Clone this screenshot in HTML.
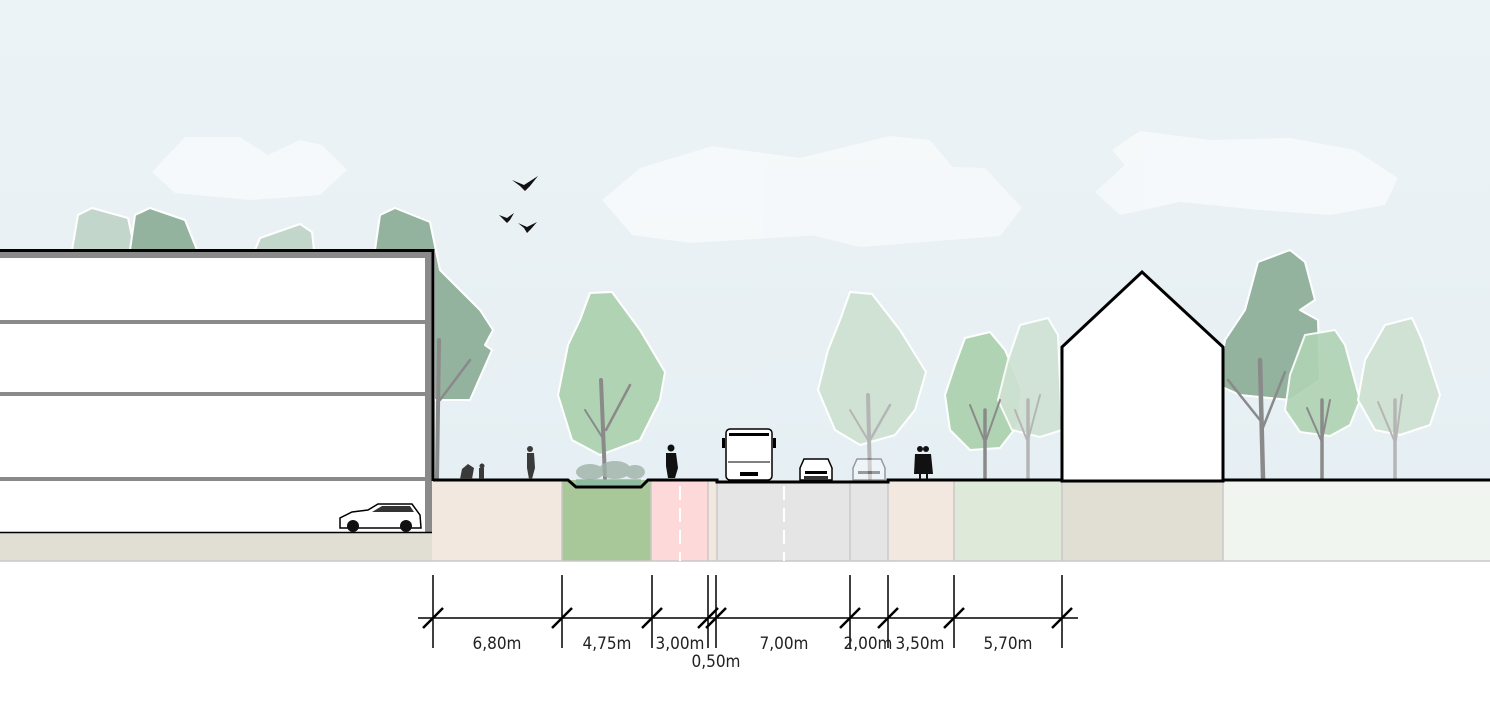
<!DOCTYPE html>
<html><head><meta charset="utf-8"><style>
html,body{margin:0;padding:0;background:#fff;}
svg{display:block;}
text{font-family:"DejaVu Sans Condensed","Liberation Sans Narrow","Liberation Sans",sans-serif;font-size:17px;fill:#222;}
</style></head><body>
<svg width="1490" height="723" viewBox="0 0 1490 723" xmlns="http://www.w3.org/2000/svg">
<defs>
<linearGradient id="sky" x1="0" y1="0" x2="0" y2="1">
<stop offset="0" stop-color="#ecf3f6"/><stop offset="1" stop-color="#e6eff3"/>
</linearGradient>
</defs>
<rect x="0" y="0" width="1490" height="480" fill="url(#sky)"/>
<g fill="#ffffff" opacity="0.55">
<polygon points="185,137 240,137 268,155 300,140 322,145 347,170 320,195 250,200 175,193 152,172"/>
<polygon points="640,168 712,146 800,158 890,136 930,140 955,170 935,200 880,222 820,235 690,243 632,235 602,200"/>
<polygon points="812,172 860,168 905,178 950,167 985,168 1022,208 1000,236 860,247 803,233 780,205"/>
<polygon points="1140,131 1210,140 1290,138 1355,150 1398,178 1385,205 1330,215 1260,210 1180,202 1120,215 1095,192 1125,165 1112,150"/>
</g>
<g stroke="#fff" stroke-width="2" stroke-linejoin="round">
<path d="M72,250 L78,215 L92,208 L128,218 L135,250 Z" fill="#c3d6cb"/>
<path d="M130,250 L135,215 L150,208 L185,220 L197,250 Z" fill="#93b39e"/>
<path d="M255,250 L260,238 L300,224 L312,232 L314,250 Z" fill="#c3d6cb"/>
<path d="M375,250 L380,215 L395,208 L430,222 L440,270 L480,310 L493,330 L485,345 L492,350 L470,400 L434,400 L434,250 Z" fill="#93b39e"/>
</g>
<g stroke="#8a8a8a" stroke-linecap="round" fill="none">
<line x1="437" y1="478" x2="439" y2="340" stroke-width="4"/>
<line x1="440" y1="400" x2="470" y2="360" stroke-width="2.5"/>
</g>
<g stroke="#fff" stroke-width="2" stroke-linejoin="round">
<path d="M590,293 L612,292 L640,330 L665,372 L660,400 L640,440 L600,455 L572,440 L558,395 L568,345 L580,320 Z" fill="#b0d3b4"/>
<path d="M850,292 L872,294 L900,330 L926,372 L915,410 L895,435 L860,445 L835,430 L818,390 L828,350 L840,320 Z" fill="#cfe2d3"/>
<path d="M965,338 L990,332 L1005,350 L1022,390 L1018,425 L1000,448 L970,450 L950,430 L945,395 L955,365 Z" fill="#b0d3b4"/>
<path d="M1020,325 L1048,318 L1058,335 L1062,430 L1040,437 L1012,430 L998,400 L1008,360 Z" fill="#cfe2d3" opacity="0.9"/>
<path d="M1258,262 L1290,250 L1305,262 L1315,300 L1300,310 L1318,320 L1320,380 L1290,400 L1240,395 L1218,385 L1225,340 L1245,310 Z" fill="#93b39e"/>
<path d="M1305,335 L1335,330 L1345,345 L1360,400 L1350,425 L1330,436 L1300,432 L1285,410 L1290,375 Z" fill="#b0d3b4" opacity="0.92"/>
<path d="M1385,325 L1412,318 L1422,340 L1440,395 L1430,425 L1400,435 L1375,430 L1358,400 L1365,360 Z" fill="#cfe2d3"/>
</g>
<g stroke-linecap="round" fill="none">
<g stroke="#8a8a8a"><line x1="605" y1="478" x2="601" y2="380" stroke-width="4"/><line x1="606" y1="430" x2="630" y2="385" stroke-width="2.5"/><line x1="604" y1="440" x2="585" y2="410" stroke-width="2"/></g>
<g stroke="#b5b5b5"><line x1="870" y1="478" x2="868" y2="395" stroke-width="4"/><line x1="870" y1="440" x2="890" y2="405" stroke-width="2.5"/><line x1="868" y1="440" x2="850" y2="410" stroke-width="2"/></g>
<g stroke="#8a8a8a"><line x1="985" y1="478" x2="985" y2="410" stroke-width="3.5"/><line x1="986" y1="440" x2="1000" y2="400" stroke-width="2"/><line x1="984" y1="440" x2="970" y2="405" stroke-width="2"/></g>
<g stroke="#b5b5b5"><line x1="1028" y1="478" x2="1028" y2="400" stroke-width="3.5"/><line x1="1028" y1="440" x2="1040" y2="395" stroke-width="2"/><line x1="1027" y1="440" x2="1015" y2="410" stroke-width="2"/></g>
<g stroke="#8a8a8a"><line x1="1263" y1="478" x2="1260" y2="360" stroke-width="4.5"/><line x1="1262" y1="430" x2="1285" y2="372" stroke-width="2.5"/><line x1="1260" y1="420" x2="1228" y2="380" stroke-width="2.5"/></g>
<g stroke="#8a8a8a"><line x1="1322" y1="478" x2="1322" y2="400" stroke-width="3.5"/><line x1="1322" y1="440" x2="1330" y2="400" stroke-width="2"/><line x1="1321" y1="440" x2="1307" y2="408" stroke-width="2"/></g>
<g stroke="#b5b5b5"><line x1="1395" y1="478" x2="1395" y2="400" stroke-width="3.5"/><line x1="1396" y1="440" x2="1402" y2="395" stroke-width="2"/><line x1="1394" y1="440" x2="1378" y2="402" stroke-width="2"/></g>
</g>
<rect x="0" y="532" width="432" height="29" fill="#e1ded4"/>
<rect x="432" y="480" width="130" height="81" fill="#f3e8e0"/>
<rect x="562" y="480" width="89" height="81" fill="#a8c89a"/>
<rect x="651" y="480" width="57" height="81" fill="#fdd9d9"/>
<rect x="708" y="480" width="9" height="81" fill="#f3e8e0"/>
<rect x="717" y="480" width="171" height="81" fill="#e5e5e5"/>
<rect x="888" y="480" width="66" height="81" fill="#f3e8e0"/>
<rect x="954" y="480" width="108" height="81" fill="#dfe9da"/>
<rect x="1062" y="480" width="161" height="81" fill="#e1ded4"/>
<rect x="1223" y="480" width="267" height="81" fill="#f1f5ef"/>
<g stroke="#c8c8c8" stroke-width="1.5">
<line x1="562" y1="480" x2="562" y2="561"/><line x1="651" y1="480" x2="651" y2="561"/><line x1="708" y1="480" x2="708" y2="561"/><line x1="717" y1="480" x2="717" y2="561"/><line x1="850" y1="480" x2="850" y2="561"/><line x1="888" y1="480" x2="888" y2="561"/><line x1="954" y1="480" x2="954" y2="561"/><line x1="1062" y1="480" x2="1062" y2="561"/><line x1="1223" y1="480" x2="1223" y2="561"/>
<line x1="0" y1="561" x2="1490" y2="561"/>
</g>
<g stroke="#fff" stroke-width="2" stroke-dasharray="14,8">
<line x1="680" y1="486" x2="680" y2="561"/><line x1="784" y1="486" x2="784" y2="561"/>
</g>
<rect x="0" y="251" width="432" height="281" fill="#fff"/>
<rect x="0" y="252" width="432" height="6" fill="#8a8a8a"/>
<rect x="425" y="252" width="7" height="280" fill="#8a8a8a"/>
<g fill="#8a8a8a"><rect x="0" y="320" width="428" height="4"/><rect x="0" y="392" width="428" height="4"/><rect x="0" y="477" width="428" height="4"/></g>
<line x1="0" y1="250.5" x2="434" y2="250.5" stroke="#000" stroke-width="3"/>
<line x1="433" y1="249" x2="433" y2="481" stroke="#000" stroke-width="3"/>
<line x1="0" y1="532.5" x2="432" y2="532.5" stroke="#000" stroke-width="1.5"/>
<g>
<path d="M340,528 L340,518 L352,512 L368,510 L378,504 L412,504 L420,515 L421,528 Z" fill="#fff" stroke="#000" stroke-width="1.5"/>
<path d="M372,512 L382,506 L410,506 L414,512 Z" fill="#333"/>
<circle cx="353" cy="526" r="6" fill="#111"/><circle cx="406" cy="526" r="6" fill="#111"/>
</g>
<polygon points="1062,481 1062,347 1142,272 1223,347 1223,481" fill="#fff" stroke="#000" stroke-width="3" stroke-linejoin="miter"/>
<polyline points="433,480 568,480 576,487 641,487 648,480 717,480 717,482 888,482 888,480 1062,480" fill="none" stroke="#000" stroke-width="3"/>
<line x1="1223" y1="480" x2="1490" y2="480" stroke="#000" stroke-width="3"/>
<g fill="#9fb3a8" opacity="0.8">
<ellipse cx="590" cy="472" rx="14" ry="8"/><ellipse cx="615" cy="470" rx="16" ry="9"/><ellipse cx="635" cy="472" rx="10" ry="7"/>
</g>
<rect x="576" y="479" width="65" height="6" fill="#7fb0a0" opacity="0.6"/>
<g fill="#3a3a3a">
<path d="M460,479 L462,469 L468,464 L474,468 L472,479 Z"/><circle cx="482" cy="466" r="2.5"/><rect x="479" y="468" width="5" height="11"/>
<circle cx="530" cy="449" r="3"/><path d="M527,453 L534,453 L535,468 L532,479 L529,479 L527,468 Z"/>
</g>
<g fill="#111">
<circle cx="671" cy="448" r="3.5"/><path d="M666,453 L676,453 L678,468 L675,478 L668,478 L666,466 Z"/>
<circle cx="920" cy="449" r="3"/><circle cx="926" cy="449" r="3"/><path d="M915,454 L931,454 L933,474 L914,474 Z"/><rect x="919" y="474" width="2" height="5"/><rect x="926" y="474" width="2" height="5"/>
</g>
<g>
<rect x="726" y="429" width="46" height="51" rx="4" fill="#fff" stroke="#000" stroke-width="1.5"/>
<rect x="729" y="433" width="40" height="3" fill="#000"/>
<line x1="728" y1="462" x2="770" y2="462" stroke="#000"/>
<rect x="740" y="472" width="18" height="4" fill="#000"/>
<rect x="722" y="438" width="3" height="10" fill="#000"/><rect x="773" y="438" width="3" height="10" fill="#000"/>
</g>
<g>
<path d="M800,480 L800,468 L804,459 L828,459 L832,468 L832,480 Z" fill="#fff" stroke="#000" stroke-width="1.5"/>
<rect x="805" y="471" width="22" height="3" fill="#000"/><rect x="804" y="476" width="24" height="4" fill="#333"/>
</g>
<g opacity="0.35">
<path d="M853,480 L853,468 L857,459 L881,459 L885,468 L885,480 Z" fill="#fff" stroke="#000" stroke-width="1.5"/>
<rect x="858" y="471" width="22" height="3" fill="#000"/>
</g>
<g fill="#111">
<path d="M512,180 L524,185 L538,176 L530,186 L525,191 L520,186 Z"/>
<path d="M499,215 L507,218 L514,213 L510,220 L507,223 Z"/>
<path d="M518,223 L527,227 L537,222 L531,229 L527,233 L524,228 Z"/>
</g>
<g stroke="#000" stroke-width="1.5">
<line x1="418" y1="618" x2="1078" y2="618"/>
<line x1="433" y1="575" x2="433" y2="648"/><line x1="562" y1="575" x2="562" y2="648"/><line x1="652" y1="575" x2="652" y2="648"/><line x1="708" y1="575" x2="708" y2="648"/><line x1="716" y1="575" x2="716" y2="648"/><line x1="850" y1="575" x2="850" y2="648"/><line x1="888" y1="575" x2="888" y2="648"/><line x1="954" y1="575" x2="954" y2="648"/><line x1="1062" y1="575" x2="1062" y2="648"/>
</g>
<g stroke="#000" stroke-width="2.5">
<line x1="423" y1="628" x2="443" y2="608"/><line x1="552" y1="628" x2="572" y2="608"/><line x1="642" y1="628" x2="662" y2="608"/><line x1="698" y1="628" x2="718" y2="608"/><line x1="706" y1="628" x2="726" y2="608"/><line x1="840" y1="628" x2="860" y2="608"/><line x1="878" y1="628" x2="898" y2="608"/><line x1="944" y1="628" x2="964" y2="608"/><line x1="1052" y1="628" x2="1072" y2="608"/>
</g>
<g text-anchor="middle">
<text x="497" y="649">6,80m</text>
<text x="607" y="649">4,75m</text>
<text x="680" y="649">3,00m</text>
<text x="716" y="667">0,50m</text>
<text x="784" y="649">7,00m</text>
<text x="868" y="649">2,00m</text>
<text x="920" y="649">3,50m</text>
<text x="1008" y="649">5,70m</text>
</g>
</svg>
</body></html>
